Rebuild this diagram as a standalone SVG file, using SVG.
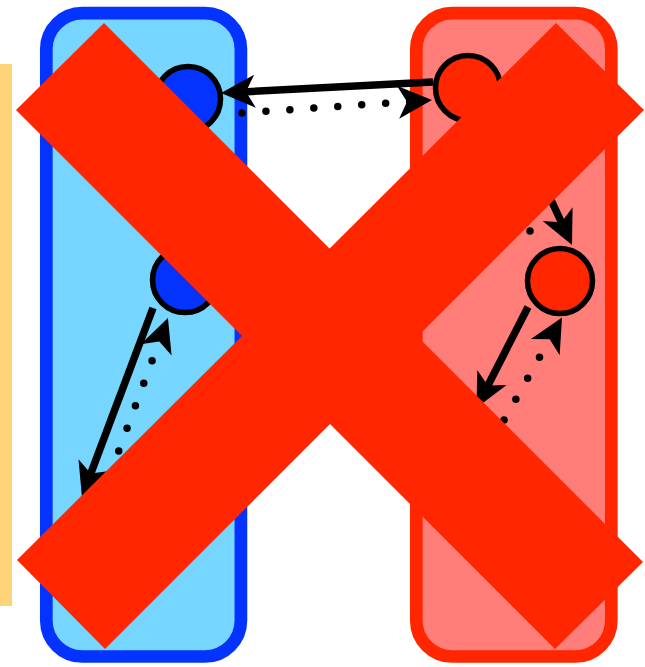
<svg xmlns="http://www.w3.org/2000/svg" width="645" height="667" viewBox="0 0 645 667">
  <style>
    .solid { fill: none; stroke: #000; stroke-width: 7.5; marker-end: url(#ah); }
    .dotted { fill: none; stroke: #000; stroke-width: 7.5; stroke-linecap: round; stroke-dasharray: 0 24; marker-end: url(#ah); }
    .nb { fill: #0433FF; stroke: #000; stroke-width: 5.5; }
    .nr { fill: #FF2600; stroke: #000; stroke-width: 5.5; }
    .xmark { fill: #FF2600; }
  </style>
  <defs>
    <marker id="ah" markerUnits="userSpaceOnUse" markerWidth="60" markerHeight="40" viewBox="-20 -20 60 40" refX="0" refY="0" orient="auto" overflow="visible">
      <path d="M22,0 L-12,-16.5 L-3,0 L-12,16.5 Z" fill="#000"/>
    </marker>
  </defs>
  <rect id="legend-bar" x="0" y="64" width="12" height="542" fill="#FFD479"/>
  <g id="container-blue">
    <rect x="46.3" y="13.2" width="194.6" height="643.3" rx="36" ry="36" fill="#76D6FF" stroke="#0433FF" stroke-width="12.7"/>
  </g>
  <g id="container-red">
    <rect x="416.3" y="13.2" width="195" height="643.3" rx="36" ry="36" fill="#FF7E79" stroke="#FF2600" stroke-width="12.7"/>
  </g>
  <g id="connectors">
    <path class="solid" d="M433,82 L243,91.9"/>
    <path class="dotted" d="M242,113 L410,101.5"/>
    <path class="solid" d="M517.5,128 L562.7,225"/>
    <path class="dotted" d="M530,231 L489.5,143.9"/>
    <path class="solid" d="M153,308 L89.7,476.4"/>
    <path class="dotted" d="M102.1,495.9 L160.3,338.6"/>
    <path class="solid" d="M528,307 L486.5,388.2"/>
    <path class="dotted" d="M480.4,461.8 L551.2,336.6"/>
  </g>
  <g id="node-blue-top"><circle class="nb" cx="188" cy="99" r="32.5"/></g>
  <g id="node-blue-mid"><circle class="nb" cx="185" cy="280" r="32.5"/></g>
  <g id="node-red-top"><circle class="nr" cx="468" cy="88" r="32.5"/></g>
  <g id="node-red-mid"><circle class="nr" cx="560" cy="281" r="32.5"/></g>
  <g id="cross">
    <polygon class="xmark" points="104,23 643,562 555,649 16,110"/>
    <polygon class="xmark" points="556,23 644,110 105,649 17,560"/>
  </g>
</svg>
